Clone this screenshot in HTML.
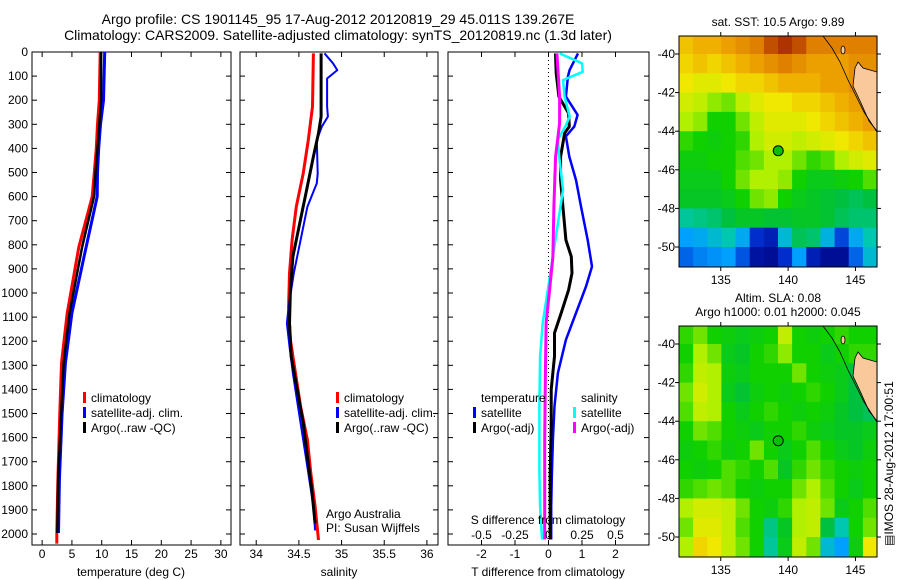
<!DOCTYPE html>
<html><head><meta charset="utf-8"><style>
body{margin:0;background:#fff;}
svg{display:block;font-family:"Liberation Sans",sans-serif;}
</style></head><body>
<svg id="fig" width="900" height="580" viewBox="0 0 900 580" xmlns="http://www.w3.org/2000/svg">
<rect width="900" height="580" fill="#fff"/>
<text x="338" y="24" font-size="14" text-anchor="middle">Argo profile: CS 1901145_95 17-Aug-2012 20120819_29 45.011S 139.267E</text>
<text x="338" y="40" font-size="14" text-anchor="middle">Climatology: CARS2009. Satellite-adjusted climatology: synTS_20120819.nc (1.3d later)</text>
<g id="g"></g>
</svg>
<script>
// ---------- data ----------
const depthTicks=[0,100,200,300,400,500,600,700,800,900,1000,1100,1200,1300,1400,1500,1600,1700,1800,1900,2000];
const tTicks=[0,5,10,15,20,25,30];
const sTicks=[34,34.5,35,35.5,36];
const sTickLabels=["34","34.5","35","35.5","36"];
const dTTicks=[-2,-1,0,1,2];
const dSTicks=[-0.5,-0.25,0,0.25,0.5];
const dSTickLabels=["-0.5","-0.25","0","0.25","0.5"];
const lonTicks=[135,140,145];
const latTicks=[-40,-42,-44,-46,-48,-50];

const tDepth=[0,200,300,400,500,600,808,1084,1291,1498,1775,1996];
const tClim=[9.75,9.6,9.3,9.1,8.75,8.4,6.17,4.2,3.25,2.97,2.64,2.47];
const tSat=[10.5,10.3,9.8,9.5,9.3,9.25,7.4,5.0,3.9,3.36,2.9,2.75];
const tArgo=[9.9,9.9,9.6,9.3,8.96,8.7,6.72,4.6,3.6,3.2,2.68,2.55];
const tClimEndDepth=2040;

const sDepth=[6,227,365,504,642,780,918,1057,1195,1333,1471,1609,1747,1886,2025];
const sClim=[34.67,34.66,34.61,34.55,34.47,34.42,34.39,34.38,34.4,34.46,34.52,34.6,34.64,34.69,34.73];
const sArgoDepth=[6,268,337,434,573,711,849,987,1126,1264,1401,1539,1677,1815,1956];
const sArgo=[34.76,34.76,34.73,34.67,34.59,34.51,34.43,34.4,34.39,34.41,34.48,34.55,34.6,34.65,34.69];
const sSatDepth=[6,47,75,110,227,268,309,365,504,545,642,780,918,1057,1126,1222,1333,1471,1609,1747,1886,1985];
const sSat=[34.8,34.9,34.95,34.83,34.83,34.84,34.77,34.71,34.72,34.71,34.6,34.52,34.44,34.38,34.36,34.39,34.43,34.49,34.55,34.61,34.67,34.69];

const dDepth=[6,75,102,185,261,309,350,434,531,641,780,890,973,1083,1194,1332,1470,1608,1747,1885,2023];
const dTSat=[0.88,0.63,0.58,0.52,0.87,0.77,0.52,0.62,0.82,0.97,1.17,1.3,1.12,0.82,0.52,0.28,0.18,0.13,0.1,0.08,0.08];
const dTArgoDepth=[6,88,185,254,309,337,434,531,641,780,849,918,987,1083,1166,1263,1401,1539,1747,2023];
const dTArgo=[0.21,0.23,0.31,0.6,0.62,0.48,0.36,0.36,0.43,0.52,0.68,0.7,0.6,0.38,0.18,0.18,0.08,0.08,0.05,0.05];
const dSSatDepth=[6,47,82,117,185,268,309,364,434,573,711,849,987,1125,1263,1470,1747,1885,2023];
const dSSat=[0.083,0.25,0.255,0.108,0.12,0.158,0.125,0.07,0.08,0.108,0.07,0.033,-0.005,-0.043,-0.063,-0.068,-0.068,-0.063,-0.048];
const dSArgoDepth=[6,185,295,434,641,849,987,1125,1332,1608,2023];
const dSArgo=[0.063,0.083,0.083,0.053,0.04,0.033,0.008,-0.018,-0.023,-0.028,-0.028];

const sstGrid=[
[.82,.84,.84,.86,.88,.9,.95,.98,.95,.9,.9,.9,.9,.9],
[.8,.82,.8,.82,.84,.86,.88,.9,.88,.86,.86,.86,.88,.88],
[.78,.76,.76,.78,.8,.8,.82,.84,.84,.84,.86,.86,.88,.86],
[.74,.72,.68,.66,.72,.76,.78,.78,.8,.8,.82,.84,.86,.86],
[.7,.68,.6,.6,.66,.72,.76,.76,.76,.78,.8,.82,.84,.86],
[.62,.6,.58,.6,.62,.7,.74,.74,.72,.74,.76,.78,.8,.82],
[.58,.58,.6,.6,.64,.66,.7,.7,.66,.62,.64,.7,.74,.76],
[.56,.56,.56,.6,.66,.7,.7,.68,.6,.56,.56,.58,.6,.64],
[.54,.54,.54,.56,.6,.66,.68,.6,.56,.54,.52,.5,.48,.5],
[.42,.44,.46,.5,.54,.54,.52,.52,.54,.54,.52,.48,.46,.46],
[.3,.32,.36,.4,.32,.14,.1,.36,.48,.46,.34,.18,.32,.4],
[.22,.26,.28,.3,.2,.06,.04,.14,.3,.1,.04,.04,.22,.36]];
const slaGrid=[
[.62,.66,.6,.58,.56,.58,.6,.72,.6,.58,.6,.62,.6,.6],
[.6,.7,.66,.56,.54,.6,.62,.68,.6,.6,.56,.6,.62,.62],
[.62,.72,.7,.58,.56,.6,.6,.6,.66,.6,.58,.56,.5,.5],
[.66,.74,.7,.56,.52,.58,.6,.58,.6,.62,.6,.56,.5,.5],
[.64,.72,.7,.6,.56,.6,.62,.6,.58,.6,.58,.54,.5,.48],
[.6,.66,.64,.6,.58,.56,.6,.6,.62,.58,.56,.54,.54,.56],
[.58,.6,.62,.58,.6,.66,.6,.56,.6,.64,.6,.56,.54,.58],
[.6,.58,.6,.64,.62,.6,.64,.54,.62,.66,.62,.6,.58,.6],
[.62,.64,.66,.64,.6,.58,.6,.6,.66,.7,.64,.6,.56,.6],
[.7,.74,.74,.72,.66,.6,.58,.62,.7,.72,.66,.56,.6,.64],
[.66,.76,.76,.72,.64,.6,.44,.54,.7,.72,.5,.4,.6,.66],
[.7,.8,.78,.72,.66,.6,.42,.56,.72,.66,.36,.3,.58,.78]];
const argoLon=139.267, argoLat=-45.011;

// ---------- helpers ----------
const NS="http://www.w3.org/2000/svg";
const G=document.getElementById('g');
function mk(tag,attrs,parent){const e=document.createElementNS(NS,tag);for(const k in attrs)e.setAttribute(k,attrs[k]);(parent||G).appendChild(e);return e;}
function txt(x,y,s,size,anchor,name){const e=mk('text',{x:x,y:y,'font-size':size,'text-anchor':anchor||'start'});e.textContent=s;


return e;}
const pTop=52,pBot=545;
const yD=d=>pTop+d*0.241;
function lin(d0,d1,r0,r1){return v=>r0+(v-d0)/(d1-d0)*(r1-r0);}
const P1={x0:32,x1:231}, P2={x0:240,x1:438}, P3={x0:448,x1:649};
const xT=lin(-1.7,31.7,P1.x0,P1.x1);
const xS=lin(33.81,36.13,P2.x0,P2.x1);
const xDT=lin(-3,3,P3.x0,P3.x1);
const xDS=v=>xDT(v*4);

function frame(P,name){const r=mk('rect',{x:P.x0,y:pTop,width:P.x1-P.x0,height:pBot-pTop,fill:'none',stroke:'#000','stroke-width':1});

}
function yTicks(P,labels){depthTicks.forEach(d=>{const y=yD(d);mk('line',{x1:P.x0,x2:P.x0+5,y1:y,y2:y,stroke:'#000'});mk('line',{x1:P.x1,x2:P.x1-5,y1:y,y2:y,stroke:'#000'});
if(labels)txt(P.x0-4,y+4,String(d),12,'end','y-tick-label');});}
function xTicks(P,vals,labs,fx,topToo){vals.forEach((v,i)=>{const x=fx(v);mk('line',{x1:x,x2:x,y1:pBot,y2:pBot-5,stroke:'#000'});if(topToo)mk('line',{x1:x,x2:x,y1:pTop,y2:pTop+5,stroke:'#000'});
txt(x,558,labs[i],12,'middle','x-tick-label');});}
function line(depths,vals,fx,color,w,name){const pts=depths.map((d,i)=>fx(vals[i]).toFixed(1)+','+yD(d).toFixed(1)).join(' ');
const e=mk('polyline',{points:pts,fill:'none',stroke:color,'stroke-width':w,'stroke-linejoin':'round'});

}
function legend(x,y,color,label,name){mk('rect',{x:x,y:y-10,width:3,height:11,fill:color});txt(x+8,y,label,12,'start',name);}

// ---------- panel 1 temperature ----------
frame(P1,'temperature-panel');yTicks(P1,true);xTicks(P1,tTicks,tTicks.map(String),xT,true);
line(tDepth.concat([tClimEndDepth]),tClim.concat([tClim[tClim.length-1]]),xT,'#f00',3,'temp-climatology-line');
line(tDepth,tSat,xT,'#00f',3,'temp-satellite-line');
line(tDepth,tArgo,xT,'#000',2.5,'temp-argo-line');
txt(131,576,'temperature (deg C)',12,'middle','temperature-axis-title');
legend(83,402,'#f00','climatology','legend-climatology');
legend(83,417,'#00f','satellite-adj. clim.','legend-satellite');
legend(83,432,'#000','Argo(..raw -QC)','legend-argo');

// ---------- panel 2 salinity ----------
frame(P2,'salinity-panel');yTicks(P2,false);xTicks(P2,sTicks,sTickLabels,xS,true);
line(sDepth,sClim,xS,'#f00',3,'sal-climatology-line');
line(sSatDepth,sSat,xS,'#00f',2,'sal-satellite-line');
line(sArgoDepth,sArgo,xS,'#000',3,'sal-argo-line');
txt(339,576,'salinity',12,'middle','salinity-axis-title');
legend(336,402,'#f00','climatology','legend-sal-climatology');
legend(336,417,'#00f','satellite-adj. clim.','legend-sal-satellite');
legend(336,432,'#000','Argo(..raw -QC)','legend-sal-argo');
txt(326,518,'Argo Australia',12,'start','credit-argo-australia');
txt(326,532,'PI: Susan Wijffels',12,'start','credit-pi');

// ---------- panel 3 differences ----------
frame(P3,'difference-panel');yTicks(P3,false);xTicks(P3,dTTicks,dTTicks.map(String),xDT,true);
mk('line',{x1:xDT(0),x2:xDT(0),y1:pTop,y2:pBot,stroke:'#000','stroke-dasharray':'1,3'});
line(dDepth,dTSat,xDT,'#00f',2.5,'dT-satellite-line');
line(dTArgoDepth,dTArgo,xDT,'#000',3,'dT-argo-line');
line(dSSatDepth,dSSat,xDS,'#0ff',2.5,'dS-satellite-line');
line(dSArgoDepth,dSArgo,xDS,'#f0f',3,'dS-argo-line');
dSTicks.forEach((v,i)=>txt(xDS(v),539,dSTickLabels[i],12,'middle','s-diff-tick-label'));
txt(548,524,'S difference from climatology',12,'middle','s-diff-axis-title');
txt(548,576,'T difference from climatology',12,'middle','t-diff-axis-title');
txt(481,402,'temperature',12,'start','legend-temperature-header');
legend(473,417,'#00f','satellite','legend-dT-satellite');
legend(473,432,'#000','Argo(-adj)','legend-dT-argo');
txt(581,402,'salinity',12,'start','legend-salinity-header');
legend(573,417,'#0ff','satellite','legend-dS-satellite');
legend(573,432,'#f0f','Argo(-adj)','legend-dS-argo');

// ---------- maps ----------
const cstops=[[0,[0,0,128]],[.15,[0,48,208]],[.3,[0,160,255]],[.4,[0,200,176]],[.5,[0,192,64]],[.6,[16,208,0]],[.7,[176,240,0]],[.78,[240,232,0]],[.84,[240,176,0]],[.9,[224,128,0]],[1,[160,32,0]]];
function cmap(v){for(let i=1;i<cstops.length;i++){if(v<=cstops[i][0]){const a=cstops[i-1],b=cstops[i],t=(v-a[0])/(b[0]-a[0]);return 'rgb('+a[1].map((c,k)=>Math.round(c+t*(b[1][k]-c))).join(',')+')';}}return 'rgb(160,32,0)';}
function drawMap(M,grid,name){
 const xL=lin(131.9,146.6,M.x0,M.x1), yL=lin(-40,-50,M.lat40,M.lat40+193);
 const gg=mk('g',{});
 const cols=grid[0].length, lonW=(146.6-131.9)/cols;
 grid.forEach((row,r)=>row.forEach((v,c)=>{const x0=xL(131.9+c*lonW),x1=xL(131.9+(c+1)*lonW),y0=Math.max(M.y0,yL(-39-r)),y1=Math.min(M.y1,yL(-40-r));
  const cell=mk('rect',{x:x0.toFixed(1),y:y0.toFixed(1),width:(x1-x0+0.6).toFixed(1),height:(y1-y0+0.6).toFixed(1),fill:cmap(v)},gg);
  
  }));
 const o=M.y0-36;
 mk('polygon',{points:`855,${68+o} 858,${62+o} 863,${68+o} 877,${72+o} 877,${131+o} 869,${121+o} 861,${103+o} 853,${86+o}`,fill:'#f9c89b',stroke:'#000','stroke-width':0.8},gg);
 mk('ellipse',{cx:843,cy:50+o,rx:2,ry:4,fill:'#f9c89b',stroke:'#000','stroke-width':0.8},gg);
 mk('polyline',{points:`823,${36+o} 832,${48+o} 840,${62+o} 848,${80+o} 856,${96+o} 864,${112+o} 877,${132+o}`,fill:'none',stroke:'#000','stroke-width':0.8},gg);
 mk('rect',{x:M.x0,y:M.y0,width:M.x1-M.x0,height:M.y1-M.y0,fill:'none',stroke:'#000'},gg);
 lonTicks.forEach(l=>{const x=xL(l);mk('line',{x1:x,x2:x,y1:M.y1,y2:M.y1+4,stroke:'#000'});mk('line',{x1:x,x2:x,y1:M.y0,y2:M.y0-4,stroke:'#000'});txt(x,M.y1+17,String(l),12,'middle','map-lon-label');});
 latTicks.forEach(l=>{const y=yL(l);mk('line',{x1:M.x0,x2:M.x0-4,y1:y,y2:y,stroke:'#000'});mk('line',{x1:M.x1,x2:M.x1+4,y1:y,y2:y,stroke:'#000'});txt(M.x0-4,y+4,String(l),12,'end','map-lat-label');});
 const dot=mk('circle',{cx:xL(argoLon),cy:yL(argoLat),r:5,fill:'#00c000',stroke:'#000'});
 
 
}
drawMap({x0:679,x1:877,y0:36,y1:267,lat40:54},sstGrid,'sst-map');
drawMap({x0:679,x1:877,y0:326,y1:557,lat40:344},slaGrid,'sla-map');
txt(778,26,'sat. SST: 10.5  Argo: 9.89',12,'middle','sst-map-title');
txt(778,302,'Altim. SLA: 0.08',12,'middle','sla-map-title');
txt(778,316,'Argo h1000: 0.01 h2000: 0.045',12,'middle','sla-map-subtitle');
const vt=txt(0,0,'\u25A4IMOS 28-Aug-2012 17:00:51',12,'start','imos-timestamp');
vt.setAttribute('transform','translate(893,546) rotate(-90)');
</script>
</body></html>
